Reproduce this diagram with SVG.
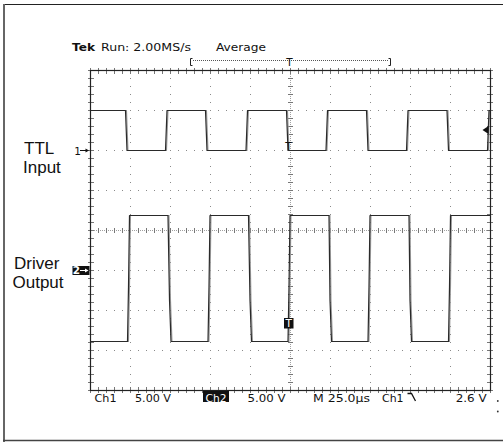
<svg xmlns="http://www.w3.org/2000/svg" width="503" height="442" viewBox="0 0 503 442">
<defs>
<style>
.dot{fill:none;stroke:#8a8a8a;stroke-width:1;stroke-dasharray:1 7}
.dense{fill:none;stroke:#a0a0a0;stroke-width:1;stroke-dasharray:1 1}
.tick{fill:none;stroke:#777;stroke-dasharray:1 7}
.border{fill:none;stroke:#222;stroke-width:1.2}
.trace{fill:none;stroke:#2a2a2a;stroke-width:1.2;stroke-linejoin:round}
.ghost{fill:none;stroke:#9a9a9a;stroke-width:1.1}
.scope{font-family:"DejaVu Sans","Liberation Sans",sans-serif;font-size:10.5px;fill:#111}
.lab{font-family:"Liberation Sans",Arial,sans-serif;font-size:17px;fill:#111}
</style>
</defs>
<rect width="503" height="442" fill="#fff"/>
<g id="frame">
<path d="M3,4.5 H503" stroke="#222" stroke-width="1.2" fill="none"/>
<path d="M4,4 V442" stroke="#666" stroke-width="2" fill="none"/>
<path d="M3,440.5 H503" stroke="#444" stroke-width="1.4" fill="none"/>
</g>
<g id="header">
<text class="scope" x="72" y="51" font-weight="bold" textLength="23" lengthAdjust="spacingAndGlyphs">Tek</text>
<text class="scope" x="101" y="51" textLength="90" lengthAdjust="spacingAndGlyphs">Run: 2.00MS/s</text>
<text class="scope" x="216" y="51" textLength="50" lengthAdjust="spacingAndGlyphs">Average</text>
<path d="M192.5,58.5 H190.5 V65.5 H192.5 M388.5,58.5 H390.5 V65.5 H388.5" stroke="#222" stroke-width="1" fill="none"/>
<path d="M193,60.5 H388" stroke="#555" stroke-width="1" stroke-dasharray="1 1" fill="none"/>
<text class="scope" x="289.5" y="66" text-anchor="middle" font-size="10">T</text>
</g>
<g id="graticule">
<path class="dot" d="M130.5,70 V391 M170.5,70 V391 M210.5,70 V391 M250.5,70 V391 M330.5,70 V391 M370.5,70 V391 M410.5,70 V391 M450.5,70 V391"/>
<path class="dot" d="M90,110.5 H491 M90,150.5 H491 M90,190.5 H491 M90,270.5 H491 M90,310.5 H491 M90,350.5 H491"/>
<path class="dense" d="M290.5,70 V391 M90,230.5 H491"/>
<path class="tick" stroke-width="5" d="M90,230.5 H491"/>
<path class="tick" stroke-width="5" d="M290.5,70 V391"/>
<path class="tick" stroke-width="6" d="M90,71 H491 M90,390 H491"/>
<path class="tick" stroke-width="6" d="M91,70 V391 M490,70 V391"/>
<rect class="border" x="90.5" y="70.5" width="400" height="320"/>
</g>
<g id="ch1">
<path class="ghost" d="M91.5,110.5 H126.5 L128,150.5 H166.5 L168,110.5 H206.5 L208,150.5 H247 L248.5,110.5 H287.5 L289,150.5 H327 L328.5,110.5 H367.5 L369,150.5 H407.5 L409,110.5 H448 L449.5,150.5 H488.5 L489.5,110.5"/>
<path class="trace" d="M90.5,110.5 H125.5 L127,150.5 H165.5 L167,110.5 H205.5 L207,150.5 H246 L247.5,110.5 H286.5 L288,150.5 H326 L327.5,110.5 H366.5 L368,150.5 H406.5 L408,110.5 H447 L448.5,150.5 H487.5 L489,110.5 H490.5"/>
<text class="scope" x="288.5" y="150" text-anchor="middle" font-size="11">T</text>
<text class="scope" x="77.5" y="154.5" text-anchor="middle" font-size="8.5">1</text>
<path d="M80,150.5 H87" stroke="#111" stroke-width="1"/>
<polygon points="89,150.5 85.5,148.5 85.5,152.5" fill="#111"/>
<polygon points="482.5,130 488.5,126 488.5,134" fill="#111"/>
</g>
<g id="ch2">
<path class="ghost" d="M91.5,341.5 H128.5 L129.5,287 L130.5,215.5 H169 L170.5,300 L172,341.5 H209 L210,287 L211,215.5 H249.5 L251,300 L252.5,341.5 H289 L290,287 L291,215.5 H330 L331,300 L332.5,341.5 H369 L370,287 L371,215.5 H410 L411,300 L412.5,341.5 H449.5 L450.5,287 L451.5,215.5"/>
<path class="trace" d="M90.5,341.5 H127.5 L128.5,287 L129.5,215.5 H168 L169.5,300 L171,341.5 H208 L209,287 L210,215.5 H248.5 L250,300 L251.5,341.5 H288 L289,287 L290,215.5 H329 L330,300 L331.5,341.5 H368 L369,287 L370,215.5 H409 L410,300 L411.5,341.5 H448.5 L449.5,287 L450.5,215.5 H490.5"/>
<rect x="284" y="318" width="9.5" height="10.5" fill="#111"/>
<text class="scope" x="288.75" y="326.5" text-anchor="middle" font-size="9.5" style="fill:#fff">T</text>
<rect x="72.5" y="266" width="17" height="9" fill="#111"/>
<text class="scope" x="76.5" y="274" text-anchor="middle" font-size="9" style="fill:#fff" font-weight="bold">2</text>
<path d="M80,270.5 H86" stroke="#fff" stroke-width="1"/>
<polygon points="88.5,270.5 85,268.5 85,272.5" fill="#fff"/>
</g>
<g id="labels">
<text class="lab" x="24" y="154">TTL</text>
<text class="lab" x="23" y="172.5">Input</text>
<text class="lab" x="14" y="269">Driver</text>
<text class="lab" x="12.5" y="287.5">Output</text>
</g>
<g id="footer">
<text class="scope" x="94.5" y="401.5" font-size="11.5" textLength="22" lengthAdjust="spacingAndGlyphs">Ch1</text>
<text class="scope" x="135" y="401.5" font-size="11.5" textLength="36" lengthAdjust="spacingAndGlyphs">5.00 V</text>
<rect x="203" y="390.8" width="26" height="11.2" fill="#111"/>
<text class="scope" x="205.5" y="401.5" font-size="11.5" textLength="21" lengthAdjust="spacingAndGlyphs" style="fill:#fff">Ch2</text>
<text class="scope" x="247.5" y="401.5" font-size="11.5" textLength="38" lengthAdjust="spacingAndGlyphs">5.00 V</text>
<text class="scope" x="313" y="401.5" font-size="11.5" textLength="57" lengthAdjust="spacingAndGlyphs">M 25.0µs</text>
<text class="scope" x="382" y="401.5" font-size="11.5" textLength="21.5" lengthAdjust="spacingAndGlyphs">Ch1</text>
<path d="M407.5,393.5 H411.5 L415.5,401" stroke="#111" stroke-width="1.3" fill="none"/>
<text class="scope" x="455.7" y="401.5" font-size="11.5" textLength="31" lengthAdjust="spacingAndGlyphs">2.6 V</text>
<circle cx="497.8" cy="401" r="0.9" fill="#333"/>
<circle cx="497.8" cy="411.5" r="0.9" fill="#333"/>
</g>
</svg>
